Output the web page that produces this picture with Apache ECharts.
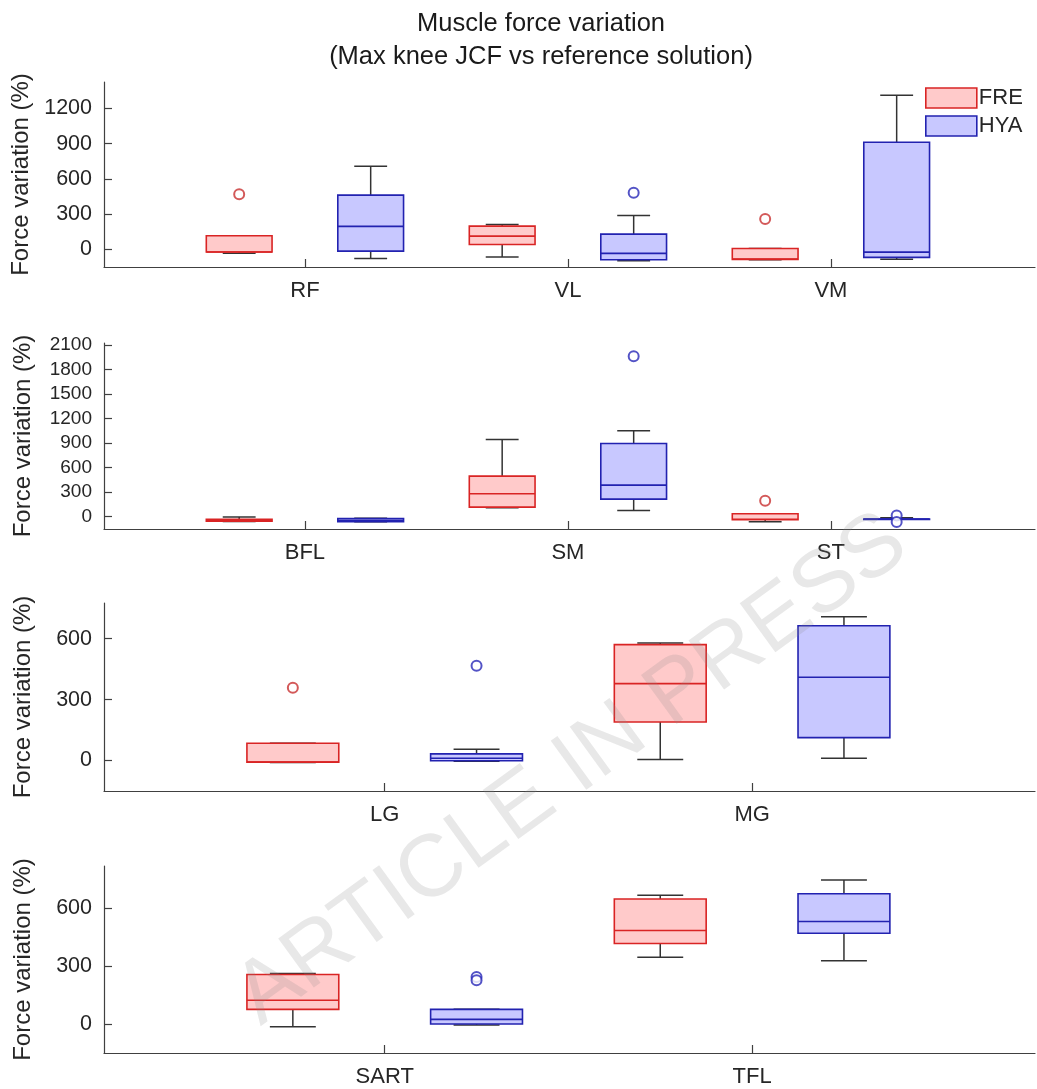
<!DOCTYPE html>
<html><head><meta charset="utf-8">
<script src="https://cdn.jsdelivr.net/npm/echarts@6/dist/echarts.min.js"></script>
<style>html,body{margin:0;padding:0;background:#fff}#c{width:1037px;height:1089px}</style>
</head><body><div id="c"></div>
<script>
// ---- Data: each box = [lower whisker, Q1, median, Q3, upper whisker]; outliers = [category number, value]
// Panel 1
const cats1 = ['RF', 'VL', 'VM'];
const fre1 = [[-32, -22, -22, 116, 116], [-65, 42, 113, 198, 213], [-88, -85, -83, 8, 8]];
const hya1 = [[-77, -15, 196, 462, 709], [-97, -88, -34, 130, 289], [-85, -68, -23, 913, 1313]];
const freOut1 = [[1, 470], [3, 258]];
const hyaOut1 = [[2, 482]];
const yTicks1 = [0, 300, 600, 900, 1200];
// Panel 2
const cats2 = ['BFL', 'SM', 'ST'];
const fre2 = [[-57, -55, -45, -30, -2], [110, 117, 281, 496, 944], [-61, -37, -30, 37, 37]];
const hya2 = [[-62, -60, -45, -22, -18], [77, 215, 386, 895, 1050], [-32, -30, -29, -28, -12]];
const freOut2 = [[3, 195]];
const hyaOut2 = [[2, 1961], [3, 15], [3, -65]];
const yTicks2 = [0, 300, 600, 900, 1200, 1500, 1800, 2100];
// Panel 3
const cats3 = ['LG', 'MG'];
const fre3 = [[-10, -8, -8, 85, 85], [5, 190, 379, 571, 579]];
const hya3 = [[-3, -1, 11, 33, 56], [11, 113, 410, 664, 708]];
const freOut3 = [[1, 359]];
const hyaOut3 = [[1, 467]];
const yTicks3 = [0, 300, 600];
// Panel 4
const cats4 = ['SART', 'TFL'];
const fre4 = [[-14, 76, 123, 256, 261], [346, 417, 484, 647, 667]];
const hya4 = [[-5, 0, 24, 76, 76], [327, 470, 531, 674, 745]];
const freOut4 = [];
const hyaOut4 = [[1, 244], [1, 227]];
const yTicks4 = [0, 300, 600];

// ---- Styling / layout
const FONT = 'Liberation Sans, Arial, Helvetica, sans-serif';
const TXT = '#262626';
const AX = '#404040';
const FRE_EDGE = '#d92424', FRE_FILL = '#ffcaca';
const HYA_EDGE = '#2222b0', HYA_FILL = '#c8c8ff';
const OFF = 0.25, BOX_W = 0.25;

const panels = [
  {cats: cats1, fre: fre1, hya: hya1, fo: freOut1, ho: hyaOut1, ticks: yTicks1, ymax: 1426, top: 82, h: 185, yfs: 21.5},
  {cats: cats2, fre: fre2, hya: hya2, fo: freOut2, ho: hyaOut2, ticks: yTicks2, ymax: 2124, top: 343, h: 186, yfs: 19},
  {cats: cats3, fre: fre3, hya: hya3, fo: freOut3, ho: hyaOut3, ticks: yTicks3, ymax: 776, top: 603, h: 188, yfs: 21.5},
  {cats: cats4, fre: fre4, hya: hya4, fo: freOut4, ho: hyaOut4, ticks: yTicks4, ymax: 818, top: 866, h: 187, yfs: 21.5}
];

function renderBox(edge, fill) {
  return function (params, api) {
    const x = api.value(0);
    const lo = api.coord([x, api.value(1)]);
    const q1 = api.coord([x, api.value(2)]);
    const md = api.coord([x, api.value(3)]);
    const q3 = api.coord([x, api.value(4)]);
    const hi = api.coord([x, api.value(5)]);
    const w = api.size([BOX_W, 0])[0];
    const cx = lo[0];
    const cap = w / 4;
    const ws = {stroke: '#333333', lineWidth: 1.5};
    return {type: 'group', children: [
      {type: 'line', shape: {x1: cx, y1: q3[1], x2: cx, y2: hi[1]}, style: ws},
      {type: 'line', shape: {x1: cx, y1: q1[1], x2: cx, y2: lo[1]}, style: ws},
      {type: 'line', shape: {x1: cx - cap, y1: hi[1], x2: cx + cap, y2: hi[1]}, style: ws},
      {type: 'line', shape: {x1: cx - cap, y1: lo[1], x2: cx + cap, y2: lo[1]}, style: ws},
      {type: 'rect', shape: {x: cx - w / 2, y: q3[1], width: w, height: Math.max(q1[1] - q3[1], 0.5)},
        style: {fill: fill, stroke: edge, lineWidth: 1.6}},
      {type: 'line', shape: {x1: cx - w / 2, y1: md[1], x2: cx + w / 2, y2: md[1]}, style: {stroke: edge, lineWidth: 1.6}}
    ]};
  };
}

const grids = [], xAxes = [], yAxes = [], series = [];
panels.forEach((p, i) => {
  const n = p.cats.length;
  const xmin = 0.236, xmax = n + 0.776 - (n === 2 ? 0.006 : 0);
  grids.push({left: 104, right: 2, top: p.top, height: p.h, containLabel: false, outerBoundsMode: 'none'});
  const catVals = p.cats.map((c, k) => k + 1);
  xAxes.push({
    type: 'value', gridIndex: i, min: xmin, max: xmax,
    axisLine: {show: true, onZero: false, lineStyle: {color: AX, width: 1.2}},
    axisTick: {show: true, inside: true, length: 8, customValues: catVals, lineStyle: {color: AX, width: 1.2}},
    axisLabel: {show: true, customValues: catVals, margin: 13, fontSize: 22, color: TXT, fontFamily: FONT,
      formatter: v => p.cats[Math.round(v) - 1] || ''},
    splitLine: {show: false}
  });
  yAxes.push({
    type: 'value', gridIndex: i, min: -150, max: p.ymax,
    name: 'Force variation (%)', nameLocation: 'middle', nameGap: 69,
    nameTextStyle: {fontSize: 24, color: TXT, fontFamily: FONT},
    axisLine: {show: true, onZero: false, lineStyle: {color: AX, width: 1.2}},
    axisTick: {show: true, inside: true, length: 8, customValues: p.ticks, lineStyle: {color: AX, width: 1.2}},
    axisLabel: {show: true, customValues: p.ticks, margin: 12, fontSize: p.yfs, color: TXT, fontFamily: FONT,
      formatter: v => String(Math.round(v))},
    splitLine: {show: false}
  });
  series.push({
    type: 'custom', name: 'FRE', xAxisIndex: i, yAxisIndex: i,
    renderItem: renderBox(FRE_EDGE, FRE_FILL),
    encode: {x: 0, y: [1, 2, 3, 4, 5]},
    data: p.fre.map((d, k) => [k + 1 - OFF].concat(d)), z: 2
  });
  series.push({
    type: 'custom', name: 'HYA', xAxisIndex: i, yAxisIndex: i,
    renderItem: renderBox(HYA_EDGE, HYA_FILL),
    encode: {x: 0, y: [1, 2, 3, 4, 5]},
    data: p.hya.map((d, k) => [k + 1 + OFF].concat(d)), z: 2
  });
  series.push({
    type: 'scatter', name: 'FRE', xAxisIndex: i, yAxisIndex: i,
    symbol: 'emptyCircle', symbolSize: 10,
    itemStyle: {color: '#c83030', borderColor: '#c83030', borderWidth: 1.8},
    data: p.fo.map(o => [o[0] - OFF, o[1]]), z: 3
  });
  series.push({
    type: 'scatter', name: 'HYA', xAxisIndex: i, yAxisIndex: i,
    symbol: 'emptyCircle', symbolSize: 10,
    itemStyle: {color: '#2828b8', borderColor: '#2828b8', borderWidth: 1.8},
    data: p.ho.map(o => [o[0] + OFF, o[1]]), z: 3
  });
});

const chart = echarts.init(document.getElementById('c'), null, {renderer: 'canvas'});
chart.setOption({
  animation: false,
  backgroundColor: '#ffffff',
  title: {
    text: 'Muscle force variation\n(Max knee JCF vs reference solution)',
    left: 541, top: 7, textAlign: 'center', padding: 0,
    textStyle: {fontSize: 25.5, fontWeight: 'normal', color: '#1a1a1a', lineHeight: 33, fontFamily: FONT}
  },
  legend: {
    orient: 'vertical', left: 925, top: 87, itemWidth: 51, itemHeight: 20, itemGap: 6,
    padding: 0,
    textStyle: {fontSize: 22, color: TXT, fontFamily: FONT, padding: [0, 0, 0, -3]},
    data: [
      {name: 'FRE', icon: 'rect', itemStyle: {color: FRE_FILL, borderColor: FRE_EDGE, borderWidth: 1.6}},
      {name: 'HYA', icon: 'rect', itemStyle: {color: HYA_FILL, borderColor: HYA_EDGE, borderWidth: 1.6}}
    ]
  },
  grid: grids, xAxis: xAxes, yAxis: yAxes, series: series,
  graphic: [{
    type: 'text', x: 572, y: 770, rotation: 36 * Math.PI / 180, z: 100, silent: true,
    style: {text: 'ARTICLE IN PRESS', fontSize: 88, fontFamily: FONT, fill: 'rgba(140,140,140,0.2)',
      align: 'center', verticalAlign: 'middle'}
  }]
});
</script></body></html>
